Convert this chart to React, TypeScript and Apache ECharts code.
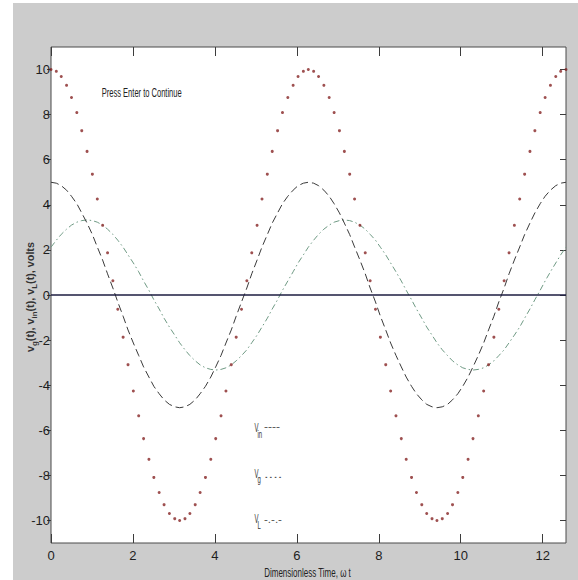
import React, { useEffect, useRef } from "react";
import * as echarts from "echarts";

// Dimensionless time, omega t (rad)
const times = [
  0, 0.13, 0.25, 0.38, 0.5, 0.63, 0.75, 0.88, 1.01, 1.13, 1.26, 1.38, 1.51, 1.63, 1.76, 1.88, 2.01, 2.14, 2.26, 2.39,
  2.51, 2.64, 2.76, 2.89, 3.02, 3.14, 3.27, 3.39, 3.52, 3.64, 3.77, 3.9, 4.02, 4.15, 4.27, 4.4, 4.52, 4.65, 4.78, 4.9,
  5.03, 5.15, 5.28, 5.4, 5.53, 5.65, 5.78, 5.91, 6.03, 6.16, 6.28, 6.41, 6.53, 6.66, 6.79, 6.91, 7.04, 7.16, 7.29, 7.41,
  7.54, 7.67, 7.79, 7.92, 8.04, 8.17, 8.29, 8.42, 8.55, 8.67, 8.8, 8.92, 9.05, 9.17, 9.3, 9.42, 9.55, 9.68, 9.8, 9.93,
  10.05, 10.18, 10.3, 10.43, 10.56, 10.68, 10.81, 10.93, 11.06, 11.18, 11.31, 11.44, 11.56, 11.69, 11.81, 11.94, 12.06,
  12.19, 12.32, 12.44, 12.57,
];

// v_g(t): red dotted markers
const vg = [
  10, 9.92, 9.69, 9.3, 8.76, 8.09, 7.29, 6.37, 5.36, 4.26, 3.09, 1.87, 0.63, -0.63, -1.87, -3.09, -4.26, -5.36, -6.37,
  -7.29, -8.09, -8.76, -9.3, -9.69, -9.92, -10, -9.92, -9.69, -9.3, -8.76, -8.09, -7.29, -6.37, -5.36, -4.26, -3.09,
  -1.87, -0.63, 0.63, 1.87, 3.09, 4.26, 5.36, 6.37, 7.29, 8.09, 8.76, 9.3, 9.69, 9.92, 10,
  9.92, 9.69, 9.3, 8.76, 8.09, 7.29, 6.37, 5.36, 4.26, 3.09, 1.87, 0.63, -0.63, -1.87, -3.09, -4.26, -5.36, -6.37,
  -7.29, -8.09, -8.76, -9.3, -9.69, -9.92, -10, -9.92, -9.69, -9.3, -8.76, -8.09, -7.29, -6.37, -5.36, -4.26, -3.09,
  -1.87, -0.63, 0.63, 1.87, 3.09, 4.26, 5.36, 6.37, 7.29, 8.09, 8.76, 9.3, 9.69, 9.92, 10,
];

// v_in(t): black dashed
const vin = [
  5, 4.96, 4.85, 4.65, 4.38, 4.05, 3.64, 3.19, 2.68, 2.13, 1.55, 0.94, 0.31, -0.31, -0.94, -1.55, -2.13, -2.68, -3.19,
  -3.64, -4.05, -4.38, -4.65, -4.85, -4.96, -5, -4.96, -4.85, -4.65, -4.38, -4.05, -3.64, -3.19, -2.68, -2.13, -1.55,
  -0.94, -0.31, 0.31, 0.94, 1.55, 2.13, 2.68, 3.19, 3.64, 4.05, 4.38, 4.65, 4.85, 4.96, 5,
  4.96, 4.85, 4.65, 4.38, 4.05, 3.64, 3.19, 2.68, 2.13, 1.55, 0.94, 0.31, -0.31, -0.94, -1.55, -2.13, -2.68, -3.19,
  -3.64, -4.05, -4.38, -4.65, -4.85, -4.96, -5, -4.96, -4.85, -4.65, -4.38, -4.05, -3.64, -3.19, -2.68, -2.13, -1.55,
  -0.94, -0.31, 0.31, 0.94, 1.55, 2.13, 2.68, 3.19, 3.64, 4.05, 4.38, 4.65, 4.85, 4.96, 5,
];

// v_L(t): green dash-dot
const vL = [
  2.12, 2.43, 2.69, 2.92, 3.1, 3.23, 3.3, 3.33, 3.3, 3.23, 3.1, 2.92, 2.69, 2.43, 2.12, 1.78, 1.42, 1.03, 0.62, 0.21,
  -0.21, -0.62, -1.03, -1.42, -1.78, -2.12, -2.43, -2.69, -2.92, -3.1, -3.23, -3.3, -3.33, -3.3, -3.23, -3.1, -2.92,
  -2.69, -2.43, -2.12, -1.78, -1.42, -1.03, -0.62, -0.21, 0.21, 0.62, 1.03, 1.42, 1.78, 2.12,
  2.43, 2.69, 2.92, 3.1, 3.23, 3.3, 3.33, 3.3, 3.23, 3.1, 2.92, 2.69, 2.43, 2.12, 1.78, 1.42, 1.03, 0.62, 0.21,
  -0.21, -0.62, -1.03, -1.42, -1.78, -2.12, -2.43, -2.69, -2.92, -3.1, -3.23, -3.3, -3.33, -3.3, -3.23, -3.1, -2.92,
  -2.69, -2.43, -2.12, -1.78, -1.42, -1.03, -0.62, -0.21, 0.21, 0.62, 1.03, 1.42, 1.78, 2.12,
];

const xTicks = [0, 2, 4, 6, 8, 10, 12];
const yTicks = [-10, -8, -6, -4, -2, 0, 2, 4, 6, 8, 10];

const NARROW = "'Liberation Sans Narrow', 'Arial Narrow', 'Liberation Sans', Arial, sans-serif";
const SANS = "'Liberation Sans', Arial, sans-serif";

export default function App() {
  const ref = useRef<HTMLDivElement>(null);

  useEffect(() => {
    if (!ref.current) return;
    const chart = echarts.init(ref.current, null, { renderer: "svg" });

    const pairs = (ys: number[]) => times.map((t, i) => [t, ys[i]]);
    const tickColor = "#3c3c3c";
    const labelStyle = { color: "#1e1e1e", fontSize: 13, fontFamily: NARROW };

    const legendRow = (sub: string, mark: string, markScale: number, vy: number, sy: number, my: number) => [
      {
        type: "text",
        x: 254.5,
        y: vy,
        scaleX: 0.5,
        z: 10,
        style: { text: "V", fontSize: 12, fontFamily: SANS, fill: "#333", align: "left", verticalAlign: "middle" },
      },
      {
        type: "text",
        x: 257.5,
        y: sy,
        scaleX: 0.6,
        z: 10,
        style: { text: sub, fontSize: 10, fontFamily: SANS, fill: "#333", align: "left", verticalAlign: "middle" },
      },
      {
        type: "text",
        x: 264,
        y: my,
        scaleX: markScale,
        z: 10,
        style: { text: mark, fontSize: 11, fontFamily: SANS, fill: "#555", align: "left", verticalAlign: "middle" },
      },
    ];

    chart.setOption({
      animation: false,
      backgroundColor: "#ffffff",
      grid: {
        left: 51,
        right: 12,
        top: 47,
        bottom: 37,
        show: true,
        backgroundColor: "#ffffff",
        borderColor: "#4a4a4a",
        borderWidth: 1,
      },
      xAxis: [
        {
          type: "value",
          min: 0,
          max: times[times.length - 1],
          position: "bottom",
          axisLine: { show: false, onZero: false },
          splitLine: { show: false },
          axisTick: { show: true, inside: true, length: 9, customValues: xTicks, lineStyle: { color: tickColor } },
          axisLabel: { show: true, margin: 6, customValues: xTicks, ...labelStyle },
        },
        {
          type: "value",
          min: 0,
          max: times[times.length - 1],
          position: "top",
          axisLine: { show: false, onZero: false },
          splitLine: { show: false },
          axisTick: { show: true, inside: true, length: 9, customValues: xTicks, lineStyle: { color: tickColor } },
          axisLabel: { show: false },
        },
      ],
      yAxis: [
        {
          type: "value",
          min: -11,
          max: 11,
          position: "left",
          axisLine: { show: false, onZero: false },
          splitLine: { show: false },
          axisTick: { show: true, inside: false, length: 4, customValues: yTicks, lineStyle: { color: tickColor } },
          axisLabel: { show: true, margin: 1, customValues: yTicks, ...labelStyle },
        },
        {
          type: "value",
          min: -11,
          max: 11,
          position: "right",
          axisLine: { show: false, onZero: false },
          splitLine: { show: false },
          axisTick: { show: true, inside: true, length: 6, customValues: yTicks, lineStyle: { color: tickColor } },
          axisLabel: { show: false },
        },
      ],
      series: [
        {
          name: "vL",
          type: "line",
          data: pairs(vL),
          showSymbol: false,
          lineStyle: { color: "#6f9a84", width: 1, type: [6, 3, 1.5, 3] },
          silent: true,
          z: 2,
        },
        {
          name: "vin",
          type: "line",
          data: pairs(vin),
          showSymbol: false,
          lineStyle: { color: "#3a3a3a", width: 1, type: [8, 4] },
          silent: true,
          z: 3,
          markLine: {
            silent: true,
            symbol: "none",
            label: { show: false },
            lineStyle: { color: "#1c1c40", width: 1.5, type: "solid" },
            data: [{ yAxis: 0 }],
          },
        },
        {
          name: "vg",
          type: "scatter",
          data: pairs(vg),
          symbol: "circle",
          symbolSize: 3,
          itemStyle: { color: "#862424" },
          silent: true,
          z: 4,
        },
      ],
      graphic: [
        {
          type: "rect",
          z: -100,
          silent: true,
          shape: { x: 13, y: 3, width: 565, height: 577 },
          style: { fill: "#cccccc" },
        },
        {
          type: "text",
          x: 141.7,
          y: 92.3,
          scaleX: 0.58,
          z: 10,
          style: {
            text: "Press Enter to Continue",
            fontSize: 13,
            fontFamily: SANS,
            fill: "#222",
            align: "center",
            verticalAlign: "middle",
          },
        },
        {
          type: "text",
          x: 307.5,
          y: 573,
          scaleX: 0.64,
          z: 10,
          style: {
            text: "Dimensionless Time, ω t",
            fontSize: 12.5,
            fontFamily: SANS,
            fill: "#222",
            align: "center",
            verticalAlign: "middle",
          },
        },
        {
          type: "text",
          x: 30,
          y: 297,
          rotation: Math.PI / 2,
          scaleX: 0.98,
          z: 10,
          style: {
            text: "{m|v}{s|g}{m|(t), v}{s|in}{m|(t), v}{s|L}{m|(t), volts}",
            align: "center",
            verticalAlign: "middle",
            rich: {
              m: { fontSize: 11, fontWeight: "bold", fontFamily: SANS, fill: "#333", lineHeight: 16 },
              s: {
                fontSize: 8,
                fontWeight: "bold",
                fontFamily: SANS,
                fill: "#333",
                lineHeight: 8,
                verticalAlign: "bottom",
              },
            },
          },
        },
        ...legendRow("in", "----", 1.1, 427.5, 435.3, 426.5),
        ...legendRow("g", "....", 1.5, 473.3, 480, 474),
        ...legendRow("L", "-.-.-", 1.05, 519, 526, 519),
      ],
    });

    return () => chart.dispose();
  }, []);

  return (
    <div
      ref={ref}
      style={{ position: "fixed", left: 0, top: 0, width: 578, height: 580 }}
    />
  );
}
